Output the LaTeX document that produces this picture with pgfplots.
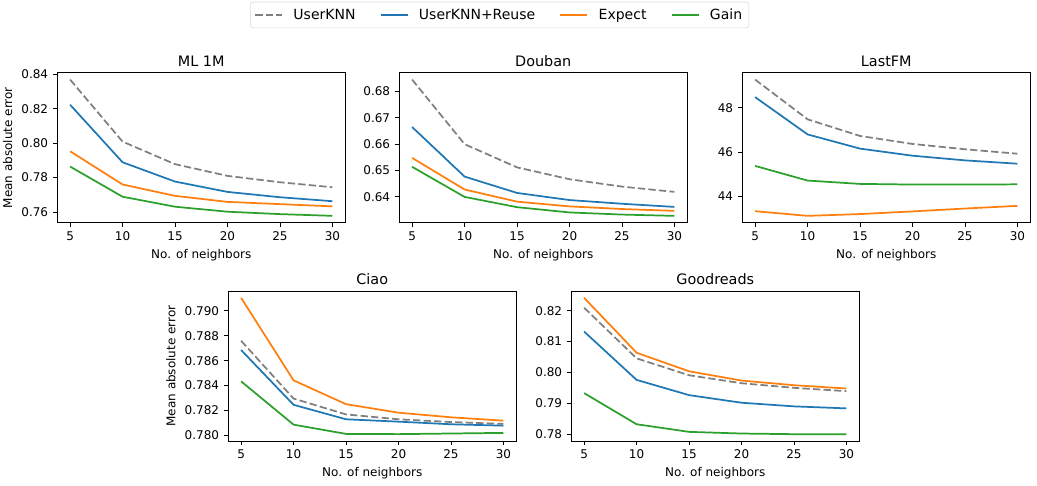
\documentclass[border=0pt]{standalone}
\usepackage{fontspec}
\setmainfont{DejaVu Sans}
\usepackage{pgfplots}
\pgfplotsset{compat=1.18}
\definecolor{cA}{HTML}{1F77B4}
\definecolor{cB}{HTML}{FF7F0E}
\definecolor{cC}{HTML}{2CA02C}
\definecolor{cG}{HTML}{7F7F7F}
\pgfplotsset{
  panel/.style={
    scale only axis, width=216.4pt, height=112.5pt, anchor=south west,
    xmin=3.75, xmax=31.25, xtick={5,10,15,20,25,30},
    tick align=outside, tick pos=left, major tick length=3.15pt,
    tick style={black, line width=0.65pt},
    axis line style={line width=0.65pt},
    every axis plot/.append style={line width=1.3pt, no markers},
    tick label style={font=\fontsize{9}{10}\selectfont},
    label style={font=\fontsize{9}{10}\selectfont},
    xlabel style={at={(0.5,0)}, anchor=base, yshift=-26.5pt},
    title style={font=\fontsize{10.8}{12}\selectfont, at={(0.5,1)}, anchor=base, yshift=-1pt},
    xlabel={No. of neighbors},
    scaled y ticks=false,
    /pgf/number format/assume math mode=true,
    yticklabel style={/pgf/number format/.cd, fixed, fixed zerofill, precision=2},
  },
  uk/.style={cG, dash pattern=on 5.5pt off 2.4pt},
  ur/.style={cA},
  ex/.style={cB},
  ga/.style={cC},
}
\begin{document}
\begin{tikzpicture}
\useasboundingbox (0,0) rectangle (777.75pt,363.75pt);
% ML 1M
\begin{axis}[panel, at={(42.75pt,196.7pt)}, title={ML 1M}, ylabel={Mean absolute error},
  ymin=0.7538, ymax=0.8409, ytick={0.76,0.78,0.80,0.82,0.84},
  legend columns=4,
  legend style={at={(1.534,1.385)}, anchor=center, draw=black!15, rounded corners=2pt,
    font=\fontsize{10.5}{12}\selectfont, inner xsep=3pt, inner ysep=3pt,
    /tikz/every even column/.append style={column sep=16.3pt}},
  legend image code/.code={\draw[#1] (0pt,0pt) -- (20.25pt,0pt); \path (26pt,0pt);},
  legend cell align=left]
\addplot[uk] coordinates {(5,0.8369) (10,0.8009) (15,0.7878) (20,0.7810) (25,0.7773) (30,0.7744)};
\addplot[ur] coordinates {(5,0.8223) (10,0.7889) (15,0.7777) (20,0.7717) (25,0.7686) (30,0.7663)};
\addplot[ex] coordinates {(5,0.7953) (10,0.7760) (15,0.7694) (20,0.7659) (25,0.7646) (30,0.7633)};
\addplot[ga] coordinates {(5,0.7864) (10,0.7689) (15,0.7631) (20,0.7602) (25,0.7588) (30,0.7578)};
\legend{UserKNN, UserKNN+Reuse, Expect, Gain}
\end{axis}
% Douban
\begin{axis}[panel, at={(299.25pt,196.7pt)}, title={Douban},
  ymin=0.6302, ymax=0.6871, ytick={0.64,0.65,0.66,0.67,0.68}]
\addplot[uk] coordinates {(5,0.6845) (10,0.6600) (15,0.6512) (20,0.6467) (25,0.6439) (30,0.6419)};
\addplot[ur] coordinates {(5,0.6665) (10,0.6477) (15,0.6415) (20,0.6388) (25,0.6374) (30,0.6362)};
\addplot[ex] coordinates {(5,0.6548) (10,0.6428) (15,0.6382) (20,0.6364) (25,0.6354) (30,0.6347)};
\addplot[ga] coordinates {(5,0.6514) (10,0.6400) (15,0.6361) (20,0.6341) (25,0.6333) (30,0.6328)};
\end{axis}
% LastFM
\begin{axis}[panel, at={(556.5pt,196.7pt)}, title={LastFM},
  ymin=42.82, ymax=49.58, ytick={44,46,48},
  yticklabel style={/pgf/number format/.cd, fixed, precision=0}]
\addplot[uk] coordinates {(5,49.27) (10,47.48) (15,46.73) (20,46.37) (25,46.13) (30,45.93)};
\addplot[ur] coordinates {(5,48.48) (10,46.80) (15,46.16) (20,45.84) (25,45.63) (30,45.48)};
\addplot[ex] coordinates {(5,43.34) (10,43.13) (15,43.21) (20,43.33) (25,43.46) (30,43.58)};
\addplot[ga] coordinates {(5,45.38) (10,44.72) (15,44.57) (20,44.54) (25,44.54) (30,44.55)};
\end{axis}
% Ciao
\begin{axis}[panel, at={(171pt,33pt)}, title={Ciao}, ylabel={Mean absolute error},
  ymin=0.77956, ymax=0.79158, ytick={0.780,0.782,0.784,0.786,0.788,0.790},
  yticklabel style={/pgf/number format/.cd, fixed, fixed zerofill, precision=3}]
\addplot[uk] coordinates {(5,0.78759) (10,0.78296) (15,0.78169) (20,0.78130) (25,0.78108) (30,0.78093)};
\addplot[ur] coordinates {(5,0.78685) (10,0.78246) (15,0.78130) (20,0.78111) (25,0.78090) (30,0.78079)};
\addplot[ex] coordinates {(5,0.79103) (10,0.78442) (15,0.78251) (20,0.78183) (25,0.78146) (30,0.78119)};
\addplot[ga] coordinates {(5,0.78434) (10,0.78087) (15,0.78013) (20,0.78011) (25,0.78016) (30,0.78021)};
\end{axis}
% Goodreads
\begin{axis}[panel, at={(428.25pt,33pt)}, title={Goodreads},
  ymin=0.77779, ymax=0.82639, ytick={0.78,0.79,0.80,0.81,0.82}]
\addplot[uk] coordinates {(5,0.82097) (10,0.80456) (15,0.79909) (20,0.79651) (25,0.79501) (30,0.79394)};
\addplot[ur] coordinates {(5,0.81324) (10,0.79759) (15,0.79265) (20,0.79019) (25,0.78901) (30,0.78836)};
\addplot[ex] coordinates {(5,0.82418) (10,0.80638) (15,0.80038) (20,0.79737) (25,0.79587) (30,0.79480)};
\addplot[ga] coordinates {(5,0.79330) (10,0.78322) (15,0.78075) (20,0.78021) (25,0.78000) (30,0.78000)};
\end{axis}
\end{tikzpicture}
\end{document}
